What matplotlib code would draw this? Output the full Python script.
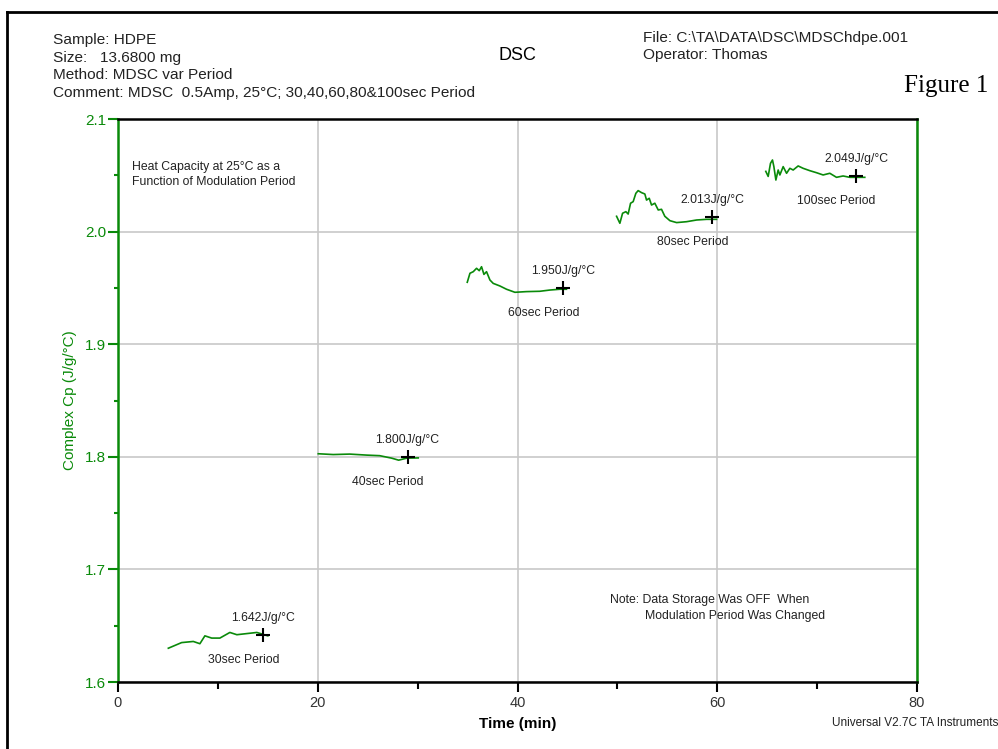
import numpy as np
import matplotlib.pyplot as plt
from matplotlib.ticker import MultipleLocator
from matplotlib.lines import Line2D

plt.rcParams['font.family'] = ['Liberation Sans', 'DejaVu Sans']

# traces for each modulation period (time in min, complex Cp in J/g/°C)
t_30 = [5.04, 6.37, 7.54, 8.2, 8.7, 9.38, 10.2, 11.2, 11.9, 12.9, 13.9, 15.0]
cp_30 = [1.630, 1.635, 1.636, 1.634, 1.641, 1.639, 1.639, 1.644, 1.642, 1.643, 1.644, 1.641]

t_40 = [20.05, 21.55, 23.2, 24.9, 26.2, 27.4, 28.1, 28.9, 30.06]
cp_40 = [1.8027, 1.802, 1.8024, 1.8015, 1.801, 1.7988, 1.797, 1.7988, 1.799]

t_60 = [34.97, 35.24, 35.57, 35.9, 36.17, 36.4, 36.64, 36.9, 37.24, 37.57, 38.24,
        38.9, 39.74, 40.9, 42.24, 43.24, 44.24, 44.9]
cp_60 = [1.955, 1.963, 1.9644, 1.9674, 1.9653, 1.9688, 1.962, 1.9644, 1.957, 1.954, 1.9517,
         1.9488, 1.9461, 1.9467, 1.947, 1.9481, 1.9488, 1.9488]

t_80 = [49.92, 50.25, 50.52, 50.85, 51.08, 51.32, 51.58, 51.85, 52.08, 52.42, 52.75, 52.92,
        53.19, 53.42, 53.75, 54.09, 54.42, 54.75, 55.26, 55.93, 56.93, 57.93, 58.93, 59.93]
cp_80 = [2.0136, 2.0074, 2.0163, 2.0177, 2.0156, 2.0252, 2.0266, 2.034, 2.0364, 2.0346, 2.0334, 2.028,
         2.0296, 2.0236, 2.0252, 2.0192, 2.0198, 2.0136, 2.0097, 2.008, 2.0088, 2.0103, 2.0109, 2.0109]

t_100 = [64.86, 65.1, 65.33, 65.53, 65.67, 65.87, 66.1, 66.27, 66.6, 66.94, 67.27, 67.6,
         68.1, 68.6, 69.27, 69.94, 70.6, 71.27, 71.94, 72.6, 73.27, 73.94, 74.77]
cp_100 = [2.0535, 2.049, 2.0606, 2.0636, 2.0577, 2.0458, 2.0547, 2.0503, 2.0577, 2.0518, 2.0562, 2.0547,
          2.0583, 2.0562, 2.0541, 2.0523, 2.0503, 2.0518, 2.0482, 2.0494, 2.0482, 2.0482, 2.0482]

traces = [(t_30, cp_30), (t_40, cp_40), (t_60, cp_60), (t_80, cp_80), (t_100, cp_100)]

# marked Cp value at the end of each period
periods = ['30sec Period', '40sec Period', '60sec Period', '80sec Period', '100sec Period']
mark_t = [14.55, 29.0, 44.6, 59.5, 73.9]
mark_cp = [1.642, 1.800, 1.950, 2.013, 2.049]

green = '#0a8a0a'
txt = '#222222'
W, H = 998, 749

fig = plt.figure(figsize=(W / 100, H / 100), dpi=100)


def px(x, y):
    return x / W, 1 - y / H


# page frame
fig.add_artist(Line2D([7 / W, 1], [1 - 12 / H, 1 - 12 / H], color='black', lw=2))
fig.add_artist(Line2D([7 / W, 7 / W], [0, 1 - 12 / H], color='black', lw=2))

# header block
hdr = dict(fontsize=11.1, color=txt, va='center', ha='left')
fig.text(*px(53, 40), 'Sample: HDPE', **hdr)
fig.text(*px(53, 58), 'Size:   13.6800 mg', **hdr)
fig.text(*px(53, 75), 'Method: MDSC var Period', **hdr)
fig.text(*px(53, 93), 'Comment: MDSC  0.5Amp, 25°C; 30,40,60,80&100sec Period', **hdr)
fig.text(*px(643, 38), 'File: C:\\TA\\DATA\\DSC\\MDSChdpe.001', **hdr)
fig.text(*px(643, 55), 'Operator: Thomas', **hdr)
fig.text(*px(517, 55), 'DSC', fontsize=13, color='black', ha='center', va='center')
fig.text(*px(988, 86), 'Figure 1', fontsize=18, family='Liberation Serif', ha='right', va='center')
fig.text(*px(832, 723), 'Universal V2.7C TA Instruments', fontsize=8.5, color=txt,
         ha='left', va='center')

ax = fig.add_axes([118 / W, 1 - 682 / H, (917 - 118) / W, (682 - 119) / H])

for t, cp in traces:
    ax.plot(t, cp, color=green, lw=1.2)

ax.plot(mark_t, mark_cp, '+', color='black', ms=9.5, mew=1.5, ls='none')

note = dict(fontsize=8.8, color=txt, va='center')
for t, cp, name in zip(mark_t, mark_cp, periods):
    ax.annotate(f'{cp:.3f}J/g/°C', (t, cp), xytext=(0, 17), textcoords='offset pixels',
                ha='center', **note)
    ax.annotate(name, (t, cp), xytext=(-20, -25), textcoords='offset pixels',
                ha='center', **note)

ax.text(*px(132, 167), 'Heat Capacity at 25°C as a', transform=fig.transFigure, **note)
ax.text(*px(132, 182), 'Function of Modulation Period', transform=fig.transFigure, **note)
ax.text(*px(610, 600), 'Note: Data Storage Was OFF  When', transform=fig.transFigure, **note)
ax.text(*px(645, 616), 'Modulation Period Was Changed', transform=fig.transFigure, **note)

ax.set_xlim(0, 80)
ax.set_ylim(1.6, 2.1)
ax.xaxis.set_major_locator(MultipleLocator(20))
ax.xaxis.set_minor_locator(MultipleLocator(10))
ax.yaxis.set_major_locator(MultipleLocator(0.1))
ax.yaxis.set_minor_locator(MultipleLocator(0.05))
ax.yaxis.set_major_formatter(lambda v, p: f'{v:.1f}')
ax.grid(True, which='major', color='#c8c8c8', lw=1.2)
ax.set_axisbelow(True)

for side in ['left', 'right']:
    ax.spines[side].set_color(green)
    ax.spines[side].set_linewidth(1.8)
for side in ['top', 'bottom']:
    ax.spines[side].set_color('black')
    ax.spines[side].set_linewidth(1.8)

ax.tick_params(axis='y', which='major', length=7, width=1.5, color=green,
               labelcolor=green, labelsize=11, pad=1.5)
ax.tick_params(axis='y', which='minor', length=3, width=1.5, color=green)
ax.tick_params(axis='x', which='major', length=7, width=1.5, color='black',
               labelcolor='#333333', labelsize=10.5, pad=3)
ax.tick_params(axis='x', which='minor', length=5, width=1.5, color='black')

ax.set_xlabel('Time (min)', fontsize=11, fontweight='bold', labelpad=5)
ax.set_ylabel('Complex Cp (J/g/°C)', fontsize=11, color=green, labelpad=6)

fig.savefig('out.png', dpi=100)
